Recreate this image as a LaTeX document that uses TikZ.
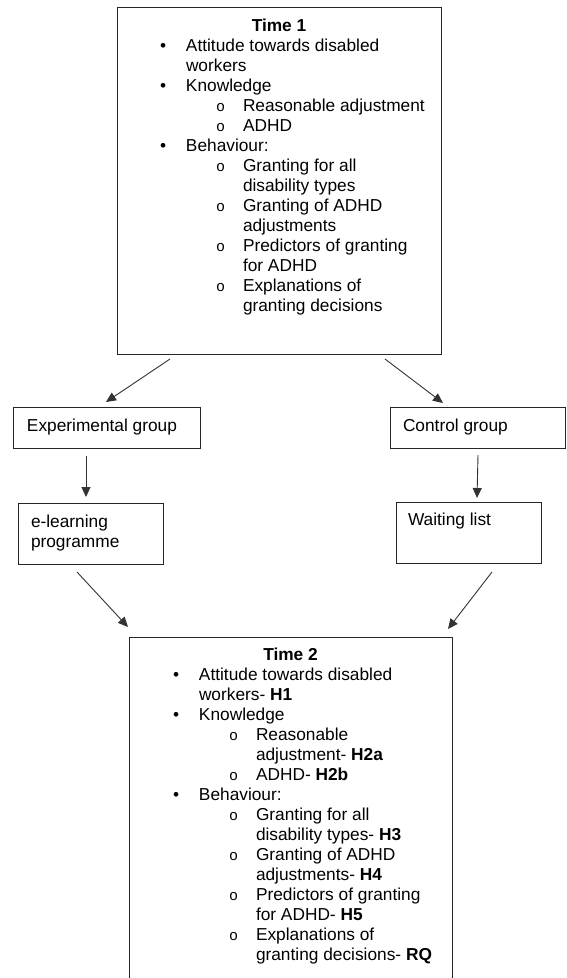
\documentclass[tikz,border=0pt]{standalone}
\usepackage{fontspec}
\setmainfont{Liberation Sans}
\newfontfamily\submarkfont{Liberation Mono}
\usetikzlibrary{arrows.meta}

% text size and line spacing used throughout
\newcommand\fs{\fontsize{17.3pt}{20pt}\selectfont}
% list lines: first-level bullet, its continuation, second-level item, its continuation
\newcommand\lvlA[1]{\hbox{\makebox[26pt][l]{\textbullet}#1}}
\newcommand\lvlAc[1]{\hbox{\hspace*{26pt}#1}}
\newcommand\lvlB[1]{\hbox{\hspace*{56pt}\makebox[27pt][l]{\submarkfont\fontsize{15pt}{20pt}\selectfont o}#1}}
\newcommand\lvlBc[1]{\hbox{\hspace*{83pt}#1}}
\newcommand\plain[1]{\hbox{#1}}

\begin{document}
\begin{tikzpicture}[x=1pt,y=-1pt,
  box/.style={draw=black!85,line width=1pt,inner sep=0pt,outer sep=0pt,anchor=north west},
  txt/.style={inner sep=0pt,outer sep=0pt,anchor=base west,font=\fs},
  head/.style={inner sep=0pt,outer sep=0pt,anchor=base,font=\fs\bfseries},
  arr/.style={draw=black!80,line width=0.9pt,-{Triangle[length=10pt,width=9pt]}}]

\useasboundingbox (0,0) rectangle (566,978);
\fill[white] (0,0) rectangle (566,978);
\clip (0,0) rectangle (566,978);

% ---- Time 1 ----
\node[box,minimum width=324pt,minimum height=347pt] (t1) at (117,7) {};
\node[head] (t1head) at ([shift={(0,24)}]t1.north) {Time 1};
\node[txt] (t1list) at ([shift={(43,44)}]t1.north west) {\vtop{%
  \lvlA{Attitude towards disabled}
  \lvlAc{workers}
  \lvlA{Knowledge}
  \lvlB{Reasonable adjustment}
  \lvlB{ADHD}
  \lvlA{Behaviour:}
  \lvlB{Granting for all}
  \lvlBc{disability types}
  \lvlB{Granting of ADHD}
  \lvlBc{adjustments}
  \lvlB{Predictors of granting}
  \lvlBc{for ADHD}
  \lvlB{Explanations of}
  \lvlBc{granting decisions}}};

% ---- groups ----
\node[box,minimum width=187pt,minimum height=41pt] (exp) at (13,407) {};
\node[txt] (explabel) at ([shift={(14,24)}]exp.north west) {Experimental group};

\node[box,minimum width=175pt,minimum height=41pt] (ctrl) at (390,407) {};
\node[txt] (ctrllabel) at ([shift={(13,24)}]ctrl.north west) {Control group};

% ---- conditions ----
\node[box,minimum width=145pt,minimum height=61pt] (el) at (18,503) {};
\node[txt] (ellabel) at ([shift={(13,24)}]el.north west) {\vtop{%
  \plain{e-learning}
  \plain{programme}}};

\node[box,minimum width=145pt,minimum height=61pt] (wl) at (396,502) {};
\node[txt] (wllabel) at ([shift={(12,23)}]wl.north west) {Waiting list};

% ---- Time 2 ----
\node[box,minimum width=323pt,minimum height=380pt] (t2) at (129,637) {};
\node[head] (t2head) at ([shift={(0,23)}]t2.north) {Time 2};
\node[txt] (t2list) at ([shift={(44,43)}]t2.north west) {\vtop{%
  \lvlA{Attitude towards disabled}
  \lvlAc{workers- \textbf{H1}}
  \lvlA{Knowledge}
  \lvlB{Reasonable}
  \lvlBc{adjustment- \textbf{H2a}}
  \lvlB{ADHD- \textbf{H2b}}
  \lvlA{Behaviour:}
  \lvlB{Granting for all}
  \lvlBc{disability types- \textbf{H3}}
  \lvlB{Granting of ADHD}
  \lvlBc{adjustments- \textbf{H4}}
  \lvlB{Predictors of granting}
  \lvlBc{for ADHD- \textbf{H5}}
  \lvlB{Explanations of}
  \lvlBc{granting decisions- \textbf{RQ}}}};

% ---- connectors ----
\draw[arr] ([shift={(53,5)}]t1.south west) -- ([shift={(93,-5)}]exp.north west);
\draw[arr] ([shift={(-56,5)}]t1.south east) -- ([shift={(53,-4)}]ctrl.north west);
\draw[arr] ([shift={(73,8)}]exp.south west) -- ([shift={(68,-6)}]el.north west);
\draw[arr] ([shift={(88,7)}]ctrl.south west) -- ([shift={(81,-4)}]wl.north west);
\draw[arr] ([shift={(59,8)}]el.south west) -- ([shift={(-1,-10)}]t2.north west);
\draw[arr] ([shift={(96,9)}]wl.south west) -- ([shift={(-4,-8)}]t2.north east);
\end{tikzpicture}
\end{document}
